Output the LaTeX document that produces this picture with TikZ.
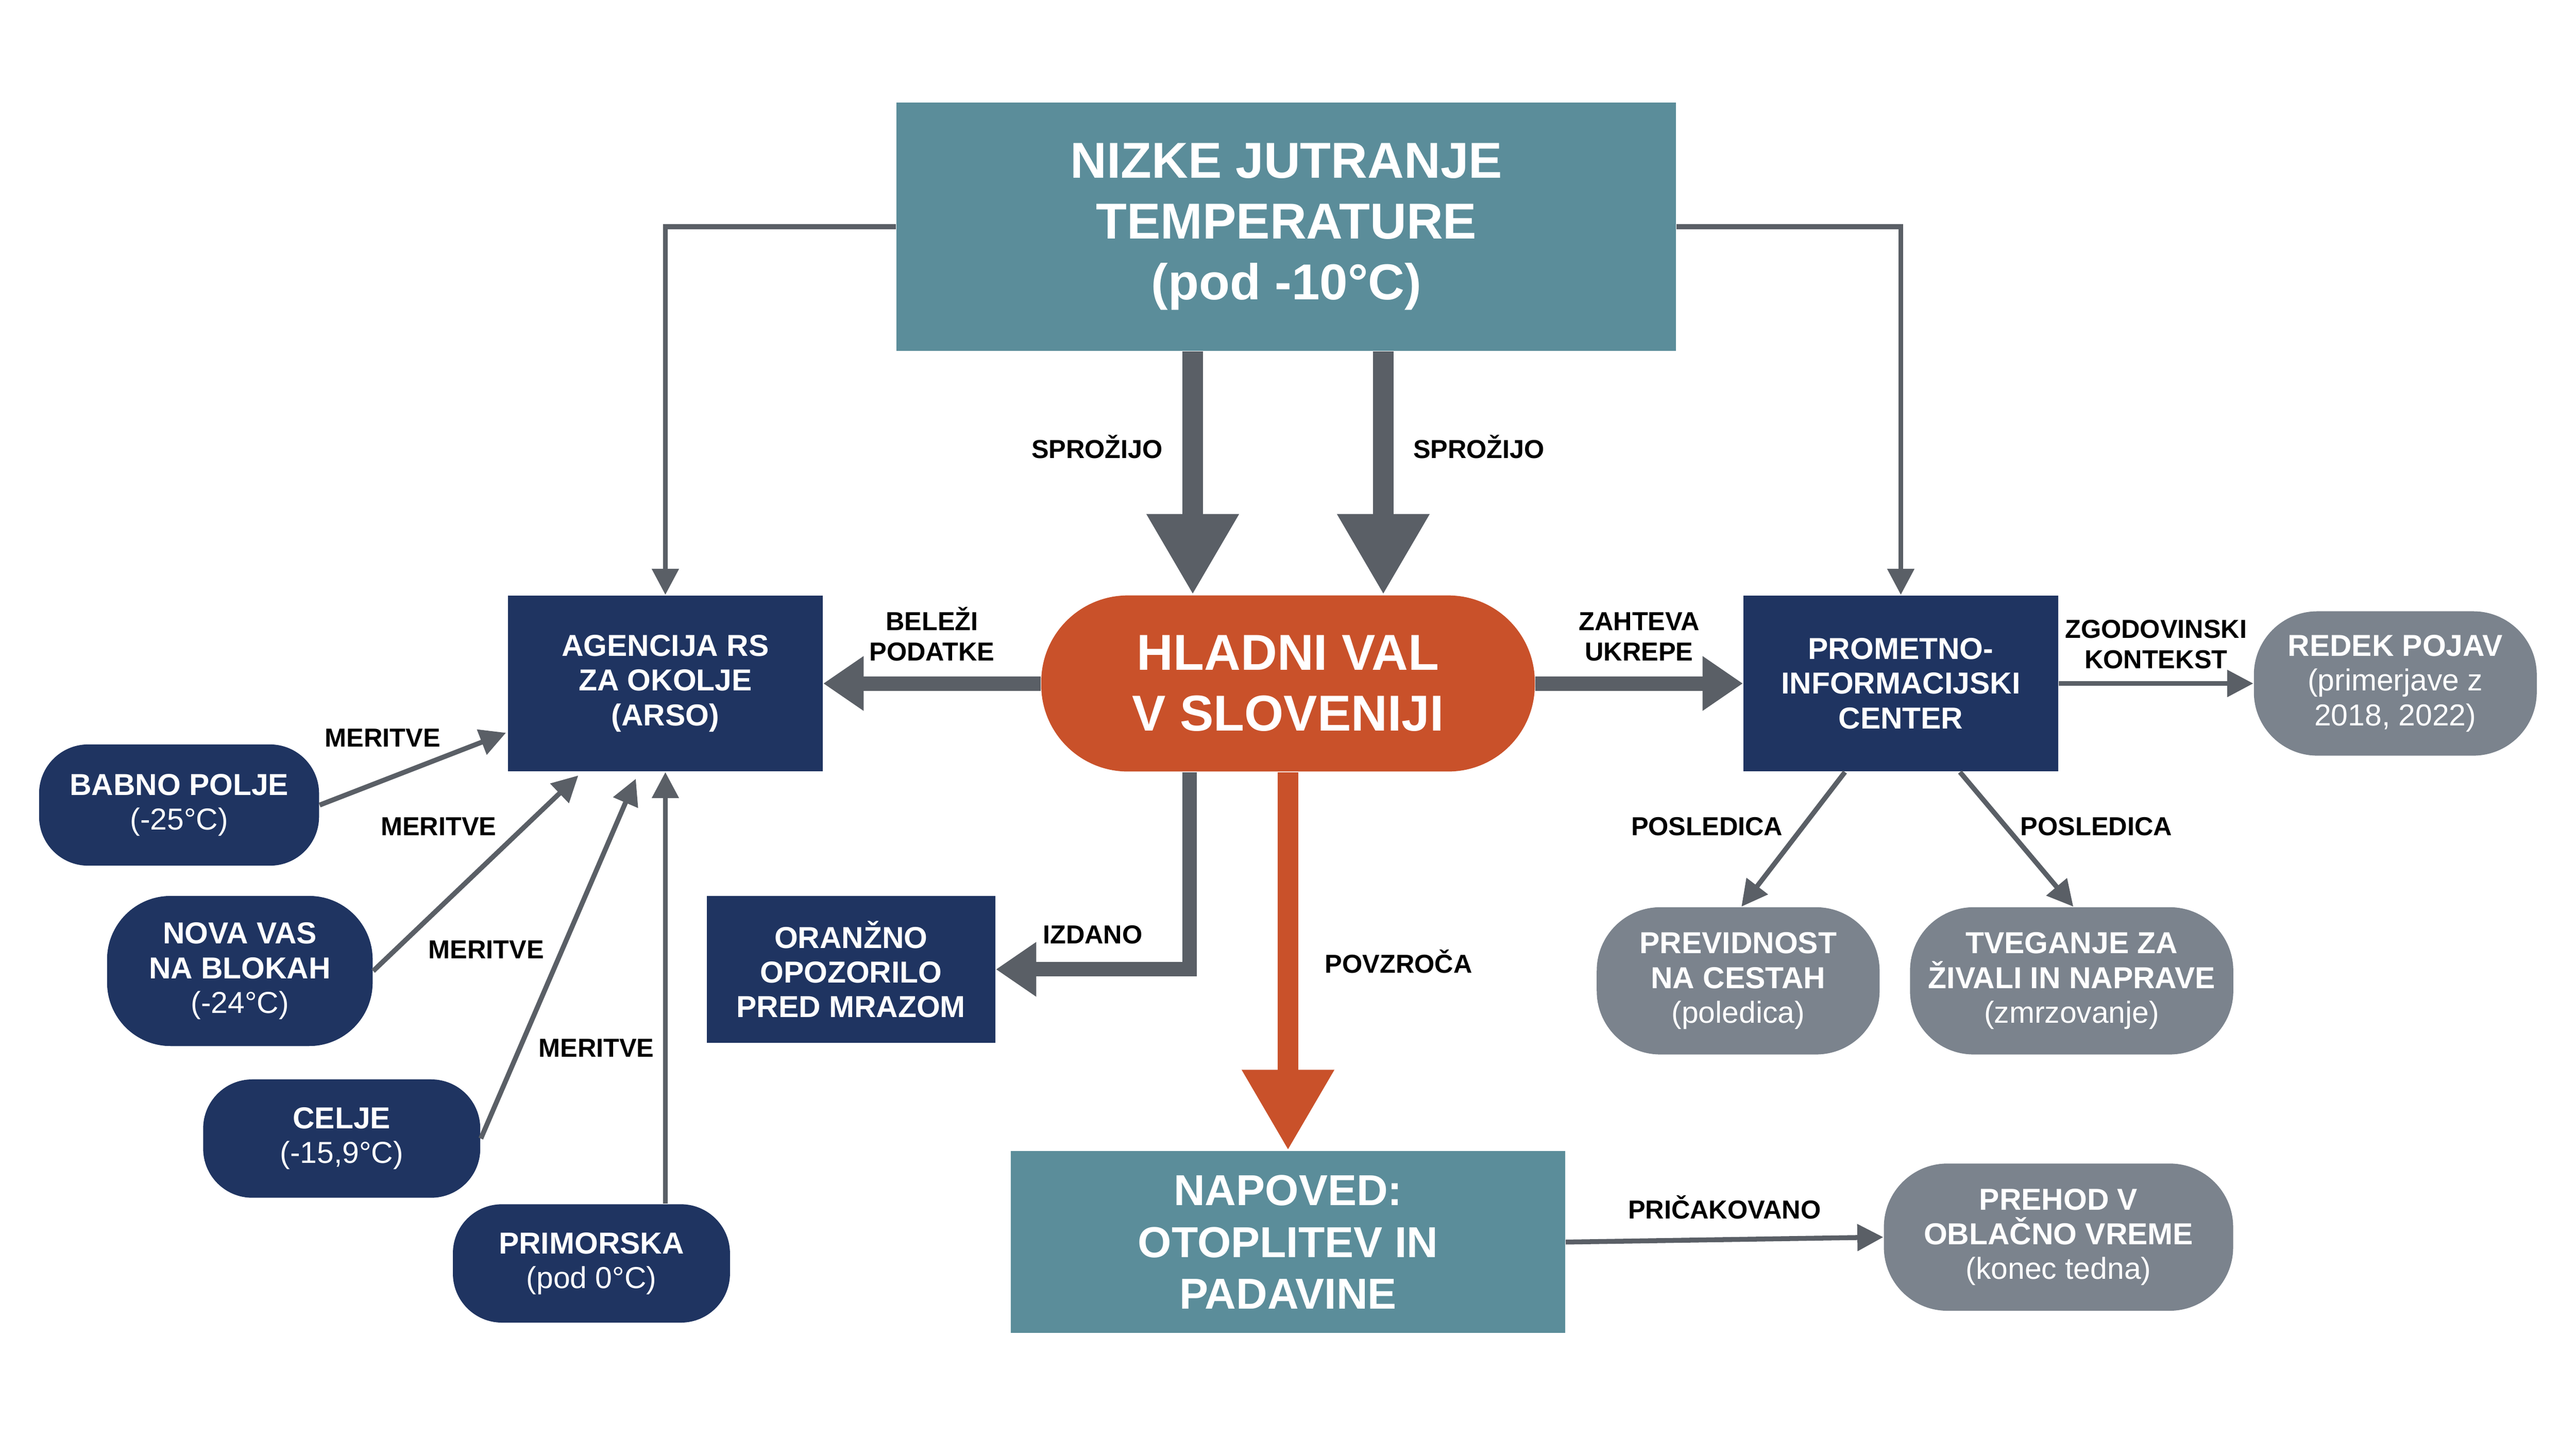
\documentclass[tikz,border=0pt]{standalone}
\usepackage{fontspec}
\setmainfont{Liberation Sans}
\usetikzlibrary{arrows.meta}
\definecolor{teal}{HTML}{5B8D9A}
\definecolor{navy}{HTML}{1F3461}
\definecolor{orng}{HTML}{C9512A}
\definecolor{grey}{HTML}{7B838D}
\definecolor{line}{HTML}{5A5F66}
\begin{document}
\begin{tikzpicture}[x=0.02cm,y=-0.02cm,
  box/.style={draw=none,text=white,font=\fontsize{10.5}{12}\selectfont\bfseries,align=center,inner sep=0pt},
  blue/.style={box,fill=navy},
  pill/.style={box,fill=navy,rounded corners=17pt},
  gpill/.style={box,fill=grey,rounded corners=20pt},
  lab/.style={font=\fontsize{9}{10.5}\selectfont\bfseries,align=center},
  conn/.style={draw=line,line width=1.7pt,-{Triangle[length=9pt,width=9pt]}},
  fat/.style={draw=line,line width=5pt,-{Triangle[length=14pt,width=18pt]}},
  huge/.style={line width=7pt,-{Triangle[length=28pt,width=30pt]}}]
\useasboundingbox (0,0) rectangle (1568,875);
\fill[white] (0,0) rectangle (1568,875);

\node[box,fill=teal,minimum width=475\pgflinewidth*0+270pt,minimum height=86pt,font=\fontsize{17.5}{21}\selectfont\bfseries] (top) at (783,138) {NIZKE JUTRANJE\\TEMPERATURE\\(pod -10°C)};
\node[box,fill=orng,minimum width=171pt,minimum height=61pt,rounded corners=30pt,font=\fontsize{17.5}{21}\selectfont\bfseries] (hv) at (784,416) {HLADNI VAL\\V SLOVENIJI};
\node[blue,minimum width=109pt,minimum height=61pt] (arso) at (405,416) {AGENCIJA RS\\ZA OKOLJE\\(ARSO)};
\node[blue,minimum width=109pt,minimum height=61pt] (pic) at (1157,416) {PROMETNO-\\INFORMACIJSKI\\CENTER};
\node[gpill,minimum width=98pt,minimum height=50pt,rounded corners=22pt] (redek) at (1458,416) {REDEK POJAV\\{\mdseries (primerjave z}\\{\mdseries 2018, 2022)}};
\node[pill,minimum width=97pt,minimum height=42pt] (babno) at (109,490) {BABNO POLJE\\{\mdseries (-25°C)}};
\node[pill,minimum width=92pt,minimum height=52pt,rounded corners=22pt] (nova) at (146,591) {NOVA VAS\\NA BLOKAH\\{\mdseries (-24°C)}};
\node[pill,minimum width=96pt,minimum height=41pt] (celje) at (208,693) {CELJE\\{\mdseries (-15,9°C)}};
\node[pill,minimum width=96pt,minimum height=41pt] (prim) at (360,769) {PRIMORSKA\\{\mdseries (pod 0°C)}};
\node[blue,minimum width=100pt,minimum height=51pt] (oranz) at (518,590) {ORANŽNO\\OPOZORILO\\PRED MRAZOM};
\node[box,fill=teal,minimum width=192pt,minimum height=63pt,font=\fontsize{15}{18}\selectfont\bfseries] (nap) at (784,756) {NAPOVED:\\OTOPLITEV IN\\PADAVINE};
\node[gpill,minimum width=121pt,minimum height=51pt,rounded corners=22pt] (prehod) at (1253,753) {PREHOD V\\OBLAČNO VREME\\{\mdseries (konec tedna)}};
\node[gpill,minimum width=98pt,minimum height=51pt,rounded corners=22pt] (prev) at (1058,597) {PREVIDNOST\\NA CESTAH\\{\mdseries (poledica)}};
\node[gpill,minimum width=112pt,minimum height=51pt,rounded corners=22pt] (tveg) at (1261,597) {TVEGANJE ZA\\ŽIVALI IN NAPRAVE\\{\mdseries (zmrzovanje)}};

% povezave
\draw[conn] (top.west) -| (arso.north);
\draw[conn] (top.east) -| (pic.north);
\draw[huge,draw=line] (top.south -| 726,0) -- (hv.north -| 726,0);
\draw[huge,draw=line] (top.south -| 842,0) -- (hv.north -| 842,0);
\node[lab,anchor=east] at (714,272) {SPROŽIJO};
\node[lab,anchor=west] at (854,272) {SPROŽIJO};
\draw[fat] (hv.west) -- (arso.east) node[lab,midway,above=2pt] {BELEŽI\\PODATKE};
\draw[fat] (hv.east) -- (pic.west) node[lab,midway,above=2pt] {ZAHTEVA\\UKREPE};
\draw[conn] (pic.east) -- (redek.west) node[lab,midway,above=1pt] {ZGODOVINSKI\\KONTEKST};
\draw[fat] (hv.south -| 724,0) |- (oranz.east) node[lab,pos=0.75,above=3pt] {IZDANO};
\draw[huge,draw=orng] (hv.south) -- (nap.north) node[lab,midway,right=6pt] {POVZROČA};
\draw[conn] (nap.east) -- (prehod.west) node[lab,midway,above=3pt] {PRIČAKOVANO};
\draw[conn] (pic.south -| 1123,0) -- (prev.north -| 1060,0);
\node[lab] at (1039,503) {POSLEDICA};
\draw[conn] (pic.south -| 1193,0) -- (tveg.north -| 1262,0);
\node[lab] at (1276,503) {POSLEDICA};
\draw[conn] (babno.east) -- (308,446);
\node[lab] at (233,449) {MERITVE};
\draw[conn] (nova.east) -- (352,472);
\node[lab] at (267,503) {MERITVE};
\draw[conn] (celje.east) -- (387,474);
\node[lab] at (296,578) {MERITVE};
\draw[conn] (prim.north -| 405,0) -- (arso.south);
\node[lab] at (363,638) {MERITVE};
\end{tikzpicture}
\end{document}
